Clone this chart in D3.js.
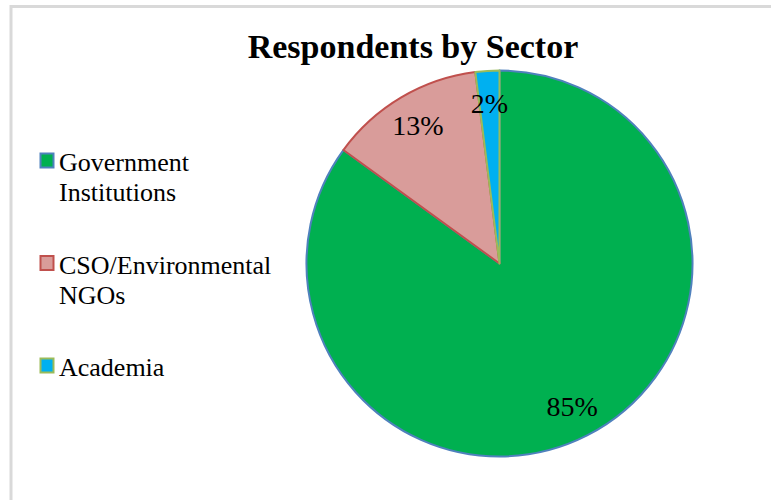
<!DOCTYPE html>
<html>
<head>
<meta charset="utf-8">
<script src="https://cdn.jsdelivr.net/npm/d3@7"></script>
<style>
  html, body { margin: 0; padding: 0; background: #ffffff; }
  svg { display: block; }
</style>
</head>
<body>
<svg id="chart" width="771" height="500"></svg>
<script>
// Respondents by sector, share of total (%)
const sectors = ["Government Institutions", "CSO/Environmental NGOs", "Academia"];
const legendLines = [["Government", "Institutions"], ["CSO/Environmental", "NGOs"], ["Academia"]];
const shares = [85, 13, 2];
const fills = ["#00B050", "#D99C9A", "#00B0F0"];
const strokes = ["#4F81BD", "#C0504D", "#9BBB59"];
const title = "Respondents by Sector";

const svg = d3.select("#chart");
const serif = "'Liberation Serif', 'Times New Roman', serif";

// chart frame (only top and left edges fall inside the view)
svg.append("rect")
  .attr("x", 11).attr("y", 6.5)
  .attr("width", 800).attr("height", 520)
  .attr("fill", "none")
  .attr("stroke", "#d9d9d9")
  .attr("stroke-width", 3);

svg.append("text")
  .attr("x", 413).attr("y", 58)
  .attr("text-anchor", "middle")
  .attr("font-family", serif)
  .attr("font-weight", "bold")
  .attr("font-size", 34)
  .attr("fill", "#000")
  .text(title);

// pie
const cx = 499.5, cy = 263.5, radius = 193;
const pie = d3.pie().sort(null).value(d => d)(shares);
const arc = d3.arc().innerRadius(0).outerRadius(radius);
const labelArc = d3.arc().innerRadius(radius * 0.83).outerRadius(radius * 0.83);

const g = svg.append("g").attr("transform", `translate(${cx},${cy})`);
g.selectAll("path.slice")
  .data(pie)
  .join("path")
  .attr("class", "slice")
  .attr("d", arc)
  .attr("fill", (d, i) => fills[i])
  .attr("stroke", (d, i) => strokes[i])
  .attr("stroke-width", 2)
  .attr("stroke-linejoin", "round");

g.selectAll("text.pct")
  .data(pie)
  .join("text")
  .attr("class", "pct")
  .attr("transform", d => `translate(${labelArc.centroid(d)})`)
  .attr("text-anchor", "middle")
  .attr("dy", "0.35em")
  .attr("font-family", serif)
  .attr("font-size", 28)
  .attr("fill", "#000")
  .text(d => d.data + "%");

// legend
const legendY = d3.scalePoint().domain(sectors).range([153, 358]);
const leg = svg.selectAll("g.legend")
  .data(sectors)
  .join("g")
  .attr("class", "legend")
  .attr("transform", d => `translate(40,${legendY(d)})`);

leg.append("rect")
  .attr("x", 0.5).attr("y", 0.5)
  .attr("width", 13).attr("height", 14)
  .attr("fill", (d, i) => fills[i])
  .attr("stroke", (d, i) => strokes[i])
  .attr("stroke-width", 2);

leg.append("text")
  .attr("font-family", serif)
  .attr("font-size", 26)
  .attr("fill", "#000")
  .selectAll("tspan")
  .data((d, i) => legendLines[i])
  .join("tspan")
  .attr("x", 19)
  .attr("y", (d, j) => 18 + j * 30)
  .text(d => d);
</script>
</body>
</html>
